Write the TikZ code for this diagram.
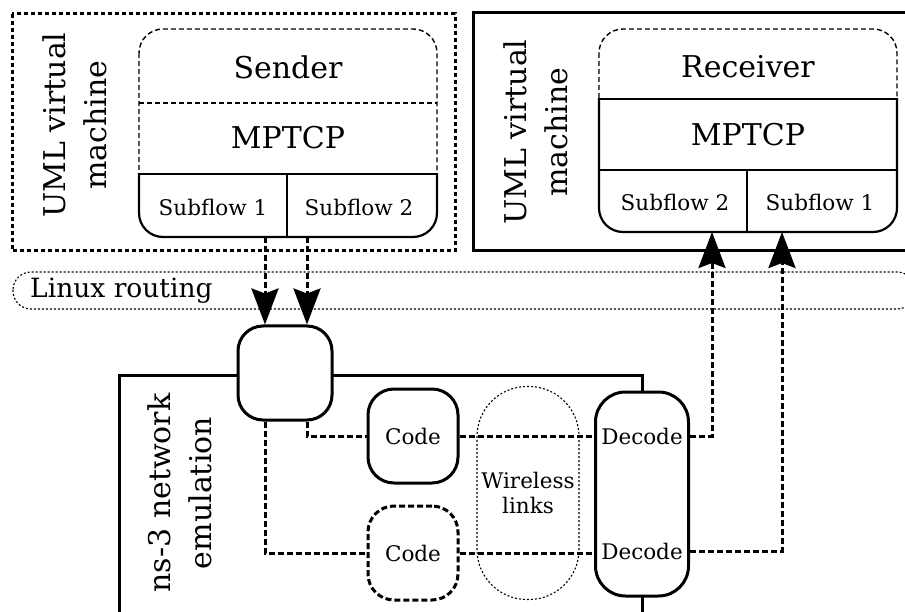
\documentclass[tikz,border=0pt]{standalone}
\usepackage{fontspec}
\setmainfont{DejaVu Serif}
\usetikzlibrary{arrows.meta}
\begin{document}
\begin{tikzpicture}[x=1pt,y=-1pt,
  big/.style={font=\fontsize{30}{41}\selectfont, inner sep=0pt},
  mid/.style={font=\fontsize{26.5}{32}\selectfont, inner sep=0pt},
  small/.style={font=\fontsize{21.5}{25}\selectfont, inner sep=0pt},
  vmframe/.style={line width=3pt, dash pattern=on 4pt off 3pt},
  solidframe/.style={line width=3pt},
  stackline/.style={line width=2.2pt},
  stackdash/.style={line width=1.4pt, dash pattern=on 5pt off 3pt},
  thindot/.style={line width=1.1pt, dash pattern=on 2pt off 2pt},
  conn/.style={line width=3pt, dash pattern=on 6pt off 3pt},
  arr/.style={conn, -{Stealth[length=36pt, width=27pt, inset=5pt]}},
  boxnode/.style={draw, line width=3pt, fill=white, rounded corners=#1, inner sep=0pt},
]
\clip (0,0) rectangle (905,612);
\fill[white] (0,0) rectangle (905,612);

% VM frames
\draw[vmframe] (12,14) rectangle (455,251);
\draw[solidframe] (473,13) rectangle (920,251);
\node[big, rotate=90, align=center] (vmL) at (75,125) {UML virtual\\machine};
\node[big, rotate=90, align=center] (vmR) at (536,132) {UML virtual\\machine};

% Sender stack
\begin{scope}
  \clip (130,174) rectangle (450,246);
  \draw[stackline, rounded corners=24] (139,29) rectangle (437,237);
\end{scope}
\begin{scope}
  \clip (130,20) rectangle (450,174);
  \draw[stackdash, rounded corners=24] (139,29) rectangle (437,237);
\end{scope}
\draw[stackdash] (139,103) -- (437,103);
\draw[stackline] (139,174) -- (437,174);
\draw[stackline] (287,174) -- (287,237);
\node[big] (sender) at (288,67) {Sender};
\node[big] (mptcpS) at (288,138) {MPTCP};
\node[small] (sf1S) at (213,207) {Subflow 1};
\node[small] (sf2S) at (359,207) {Subflow 2};

% Receiver stack
\begin{scope}
  \clip (590,99) rectangle (910,241);
  \draw[stackline, rounded corners=24] (599,29) rectangle (897,232);
\end{scope}
\begin{scope}
  \clip (590,20) rectangle (910,99);
  \draw[stackdash, rounded corners=24] (599,29) rectangle (897,232);
\end{scope}
\draw[stackline] (599,99) -- (897,99);
\draw[stackline] (599,170) -- (897,170);
\draw[stackline] (747,170) -- (747,232);
\node[big] (receiver) at (748,67) {Receiver};
\node[big] (mptcpR) at (748,135) {MPTCP};
\node[small] (sf2R) at (675,202) {Subflow 2};
\node[small] (sf1R) at (820,202) {Subflow 1};

% Linux routing
\draw[thindot, rounded corners=18] (13,272) rectangle (915,309);
\node[mid, anchor=west] (linux) at (30,291) {Linux routing};

% ns-3 frame
\draw[solidframe] (119,620) -- (119,375) -- (642,375) -- (642,620);
\node[big, rotate=90, align=center] (ns3) at (180,493) {ns-3 network\\emulation};

% boxes
\node[boxnode=25, minimum width=94pt, minimum height=94pt] (router) at (285,373) {};
\node[boxnode=26, minimum width=90pt, minimum height=94pt, small] (code1) at (413,436) {Code};
\node[boxnode=26, minimum width=90pt, minimum height=94pt, small, dash pattern=on 6pt off 3pt] (code2) at (413,553) {Code};
\node[draw, thindot, rounded corners=50, minimum width=102pt, minimum height=213pt, inner sep=0pt,
      small, align=center] (wireless) at (528,493) {Wireless\\links};
\node[boxnode=30, minimum width=93pt, minimum height=204pt] (pill) at (642,494) {};
\node[small] (dec1) at (642,436) {Decode};
\node[small] (dec2) at (642,551) {Decode};

% coordinates for connector columns
\coordinate (a1) at (265,237);
\coordinate (a2) at (307,237);
\coordinate (b1) at (712,232);
\coordinate (b2) at (782,232);

% sender arrows
\draw[arr] (a1) -- (a1 |- router.north);
\draw[arr] (a2) -- (a2 |- router.north);

% inside ns-3
\draw[conn] (a2 |- router.south) |- (code1.west);
\draw[conn] (a1 |- router.south) |- (code2.west);
\draw[conn] (code1.east) -- (pill.west |- code1.east);
\draw[conn] (code2.east) -- (pill.west |- code2.east);

% to receiver
\draw[arr] (pill.east |- dec1) -| (b1);
\draw[arr] (pill.east |- dec2) -| (b2);
\end{tikzpicture}
\end{document}
